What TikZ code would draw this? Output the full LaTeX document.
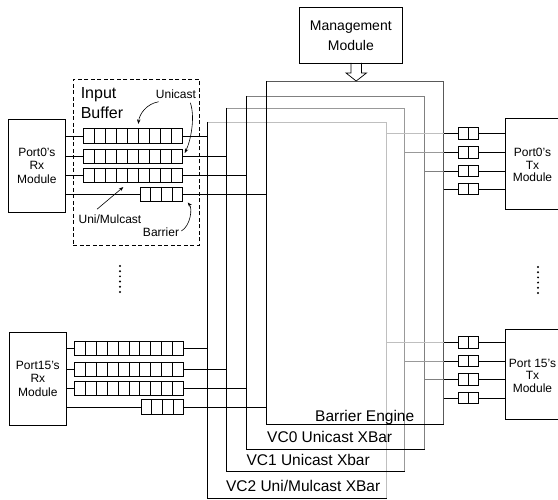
\documentclass[tikz,border=0pt]{standalone}
\usepackage{fontspec}
\setmainfont{Liberation Sans}
\usetikzlibrary{arrows.meta,calc}
\newcommand\myqueue[6]{%
  \node[draw, inner sep=0pt, minimum width=#5pt, minimum height=#6pt, anchor=west] (#1) at (#2,#3) {};
  \pgfmathtruncatemacro\qnm{#4-1}%
  \foreach \k in {1,...,\qnm}{\draw ($(#1.north west)!\k/#4!(#1.north east)$) -- ($(#1.south west)!\k/#4!(#1.south east)$);}%
}
\begin{document}
\begin{tikzpicture}[x=1pt,y=-1pt, line width=0.7pt,
  box/.style={draw, inner sep=0pt, anchor=north west, align=center},
  fsm/.style={font=\fontsize{12}{13.5}\selectfont},
  fxb/.style={font=\fontsize{15.5}{18}\selectfont, inner sep=0pt, anchor=base},
  ann/.style={-{Stealth[length=4.5pt,width=3.5pt]}, line width=0.6pt},
  edgeA/.style={black!65}, edgeB/.style={black!50}, edgeC/.style={black!40}, edgeD/.style={black!25}]
\useasboundingbox (0,0) rectangle (558,500);

% Management module
\node[box, minimum width=103pt, minimum height=56pt, font=\fontsize{14}{20}\selectfont] (mgmt) at (299,7) {Management\\Module};

% XBars
\node[inner sep=0pt, minimum width=179pt, minimum height=376pt, anchor=north west] (vc2) at (207,122) {};
\node[inner sep=0pt, minimum width=178pt, minimum height=363pt, anchor=north west] (vc1) at (226,108) {};
\node[inner sep=0pt, minimum width=178pt, minimum height=353pt, anchor=north west] (vc0) at (246,96) {};
\node[inner sep=0pt, minimum width=177pt, minimum height=343pt, anchor=north west] (be) at (266,81) {};
\draw[edgeD] (vc2.north west) -- (vc2.north east) -- (vc2.south east);
\draw[edgeC] (vc1.north west) -- (vc1.north east) -- (vc1.south east);
\draw[edgeB] (vc0.north west) -- (vc0.north east) -- (vc0.south east);
\draw[edgeA] (be.north west) -- (be.north east) -- (be.south east);
\draw (vc2.north west) -- (vc2.south west) -- (vc2.south east);
\draw (vc1.north west) -- (vc1.south west) -- (vc1.south east);
\draw (vc0.north west) -- (vc0.south west) -- (vc0.south east);
\draw (be.north west) -- (be.south west) -- (be.south east);
\node[fxb] (lbe) at ($(be.south east)+(-79,-3.5)$) {Barrier Engine};
\node[fxb] (lvc0) at ($(vc0.south east)+(-95,-7.3)$) {VC0 Unicast XBar};
\node[fxb] (lvc1) at ($(vc1.south east)+(-96.5,-6.7)$) {VC1 Unicast Xbar};
\node[fxb] (lvc2) at ($(vc2.south east)+(-83.5,-7)$) {VC2 Uni/Mulcast XBar};

% hollow arrow from management
\draw[line width=0.7pt] (351,63) -- (351,73) -- (346,73) -- (356.2,81) -- (366.5,73) -- (361.5,73) -- (361.5,63);

% Input buffer dashed box
\node[draw, dashed, dash pattern=on 4pt off 2.5pt, inner sep=0pt, minimum width=126pt, minimum height=166pt, anchor=north west] (ib) at (73,79) {};
\node[inner sep=0pt, align=left, font=\fontsize{16}{20}\selectfont] (lib) at (102,103) {Input\\Buffer};

% Rx modules
\node[box, minimum width=57pt, minimum height=93pt, fsm] (rx0) at (8,119) {Port0's\\Rx\\Module};
\node[box, minimum width=57pt, minimum height=93pt, fsm] (rx15) at (9,332) {Port15's\\Rx\\Module};

% Port0 queues
\myqueue{q01}{83}{136}{9}{99}{14.4}
\myqueue{q02}{83}{156.5}{9}{99}{14.4}
\myqueue{q03}{83}{175.5}{9}{99}{14.4}
\myqueue{q04}{140}{194.5}{4}{42}{14.4}
% Port15 queues
\myqueue{q151}{74}{348.5}{10}{109}{14.4}
\myqueue{q152}{74}{369.5}{10}{109}{14.4}
\myqueue{q153}{74}{388.5}{10}{109}{14.4}
\myqueue{q154}{141}{407}{4}{42}{14.4}

% Rx -> queues
\foreach \q/\r in {q01/rx0,q02/rx0,q03/rx0,q04/rx0,q151/rx15,q152/rx15,q153/rx15,q154/rx15}
  \draw (\r.east |- \q.west) -- (\q.west);
% queues -> XBars
\foreach \q/\x in {q01/vc2,q02/vc1,q03/vc0,q04/be,q151/vc2,q152/vc1,q153/vc0,q154/be}
  \draw (\q.east) -- (\q.east -| \x.west);

% Tx modules (right side runs past the picture edge)
\node[box, minimum width=60pt, minimum height=91pt, align=center] (tx0) at (505,118) {};
\node[box, minimum width=60pt, minimum height=90pt, align=center] (tx15) at (505,329) {};
\node[font=\fontsize{12}{12.5}\selectfont, align=center] (ltx0) at ($(tx0.west)+(27.5,1.5)$) {Port0's\\Tx\\Module};
\node[font=\fontsize{12}{12.5}\selectfont, align=center] (ltx15) at ($(tx15.west)+(27.5,1.5)$) {Port 15's\\Tx\\Module};

% Tx queues
\myqueue{t01}{458}{133.5}{2}{20}{11.5}
\myqueue{t02}{458}{152.5}{2}{20}{11.5}
\myqueue{t03}{458}{171}{2}{20}{11.5}
\myqueue{t04}{458}{189}{2}{20}{11.5}
\myqueue{t151}{458}{342.5}{2}{20}{11.5}
\myqueue{t152}{458}{361}{2}{20}{11.5}
\myqueue{t153}{458}{379.5}{2}{20}{11.5}
\myqueue{t154}{458}{398}{2}{20}{11.5}

% XBars -> Tx queues
\foreach \t/\x/\s in {t01/vc2/edgeD,t02/vc1/edgeC,t03/vc0/edgeB,t151/vc2/edgeD,t152/vc1/edgeC,t153/vc0/edgeB}
  \draw[\s] (\t.west -| \x.east) -- (\t.west -| be.east);
\foreach \t in {t01,t02,t03,t04,t151,t152,t153,t154}
  \draw (\t.west -| be.east) -- (\t.west);
\foreach \t/\m in {t01/tx0,t02/tx0,t03/tx0,t04/tx0,t151/tx15,t152/tx15,t153/tx15,t154/tx15}
  \draw (\t.east) -- (\t.east -| \m.west);

% annotations
\node[fsm, inner sep=1pt] (luni) at (176,94) {Unicast};
\node[fsm, inner sep=1pt] (lum) at (110,219) {Uni/Mulcast};
\node[fsm, inner sep=1pt] (lbar) at (161,232) {Barrier};
\draw[ann] ($(luni.south west)+(4,2)$) .. controls +(-12,2) and +(1,-10) .. ($(q01.north)+(5.5,-4.5)$);
\draw[ann] ($(luni.south east)+(-7,3)$) .. controls +(5,15) and +(6,-12) .. ($(q02.east)+(2,-3.5)$);
\draw[ann] ($(lum.north)+(-13,-4)$) -- ($(q03.south)+(-9.5,4)$);
\draw[ann] ($(lbar.east)+(1,-1)$) .. controls +(9,-5) and +(5,6) .. ($(q04.south east)+(5,0.5)$);

% continuation dots
\foreach \i in {0,...,5} {
  \fill (120,266+5.2*\i) circle (1.1);
  \fill (538,267+5.2*\i) circle (1.1);
}
\end{tikzpicture}
\end{document}
